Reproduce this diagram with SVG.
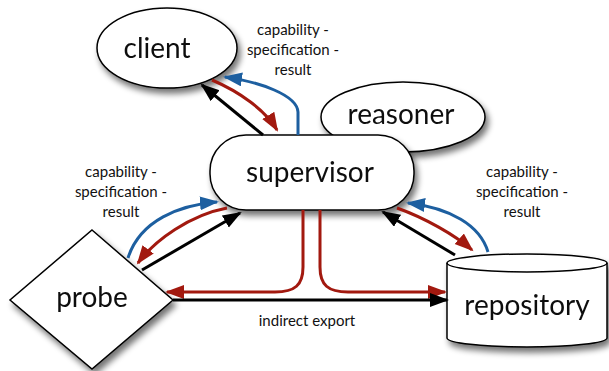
<svg xmlns="http://www.w3.org/2000/svg" width="609" height="371" viewBox="0 0 609 371">
<style>
.node{fill:#fff;stroke:#000;stroke-width:1.5;}
.lbl{font-family:Lato,"Open Sans","DejaVu Sans",sans-serif;font-size:28px;fill:#111;text-anchor:middle;}
.cap{font-family:Lato,"Open Sans","DejaVu Sans",sans-serif;font-size:15px;fill:#111;text-anchor:middle;}
.k{fill:none;stroke:#000;stroke-width:3;marker-end:url(#ak);}
.r{fill:none;stroke:#a2190f;stroke-width:3;marker-end:url(#ar);}
.b{fill:none;stroke:#1d5fa0;stroke-width:3;marker-end:url(#ab);}
</style>
<defs>
<filter id="sh" x="-20%" y="-20%" width="150%" height="160%">
<feGaussianBlur in="SourceAlpha" stdDeviation="3"/>
<feOffset dx="3" dy="5" result="o"/>
<feComponentTransfer><feFuncA type="linear" slope="0.55"/></feComponentTransfer>
<feMerge><feMergeNode/><feMergeNode in="SourceGraphic"/></feMerge>
</filter>
<marker id="ak" markerUnits="userSpaceOnUse" markerWidth="20" markerHeight="15" refX="17" refY="7" orient="auto"><path d="M0,0 L19,7 L0,14 z" fill="#000"/></marker>
<marker id="ar" markerUnits="userSpaceOnUse" markerWidth="20" markerHeight="15" refX="17" refY="7" orient="auto"><path d="M0,0 L19,7 L0,14 z" fill="#a2190f"/></marker>
<marker id="ab" markerUnits="userSpaceOnUse" markerWidth="20" markerHeight="15" refX="17" refY="7" orient="auto"><path d="M0,0 L19,7 L0,14 z" fill="#1d5fa0"/></marker>
</defs>
<rect width="609" height="371" fill="#fff"/>

<g id="client" filter="url(#sh)">
<ellipse class="node" cx="167" cy="48" rx="70" ry="40"/>
<text class="lbl" x="157" y="58">client</text>
</g>
<g id="reasoner" filter="url(#sh)">
<ellipse class="node" cx="403" cy="117" rx="82" ry="35"/>
<text class="lbl" x="401" y="124">reasoner</text>
</g>
<g id="supervisor" filter="url(#sh)">
<rect class="node" x="210" y="135" width="204" height="75" rx="36" ry="36"/>
<text class="lbl" x="310" y="182">supervisor</text>
</g>
<g id="probe" filter="url(#sh)">
<polygon class="node" points="92,230 173,300 92,369 10,300"/>
<text class="lbl" x="92" y="307">probe</text>
</g>
<g id="repository" filter="url(#sh)">
<path class="node" d="M447,263 A80,9 0 0 1 607,263 L607,338 A80,9 0 0 1 447,338 Z"/>
<path fill="none" stroke="#000" stroke-width="1.5" d="M447,263 A80,9 0 0 0 607,263"/>
<text class="lbl" x="527" y="315">repository</text>
</g>

<g id="labels">
<text class="cap" x="293" y="35">capability -</text>
<text class="cap" x="293" y="55">specification -</text>
<text class="cap" x="293" y="75">result</text>
<text class="cap" x="121" y="177">capability -</text>
<text class="cap" x="121" y="197">specification -</text>
<text class="cap" x="121" y="217">result</text>
<text class="cap" x="522" y="177">capability -</text>
<text class="cap" x="522" y="197">specification -</text>
<text class="cap" x="522" y="217">result</text>
<text class="cap" x="307" y="326">indirect export</text>
</g>

<g id="connectors">
<path class="k" d="M263,135 L202,85"/>
<path class="r" d="M212,80 C240,92 265,110 277,130"/>
<path class="b" d="M298,135 L298,112 C297,95 260,82 225,77"/>
<path class="b" d="M128,258 C140,220 180,205 217,202"/>
<path class="r" d="M227,208 C190,215 155,240 138,263"/>
<path class="k" d="M142,270 L240,213"/>
<path class="k" d="M455,255 L383,212"/>
<path class="r" d="M397,208 C425,218 455,235 472,250"/>
<path class="b" d="M488,252 C480,225 450,208 408,203"/>
<path class="r" d="M303,210 L303,267 C303,285 295,292 275,292 L167,292"/>
<path class="r" d="M320,210 L320,267 C320,285 328,292 348,292 L445,292"/>
<path class="k" d="M173,300 L447,300"/>
</g>
</svg>
